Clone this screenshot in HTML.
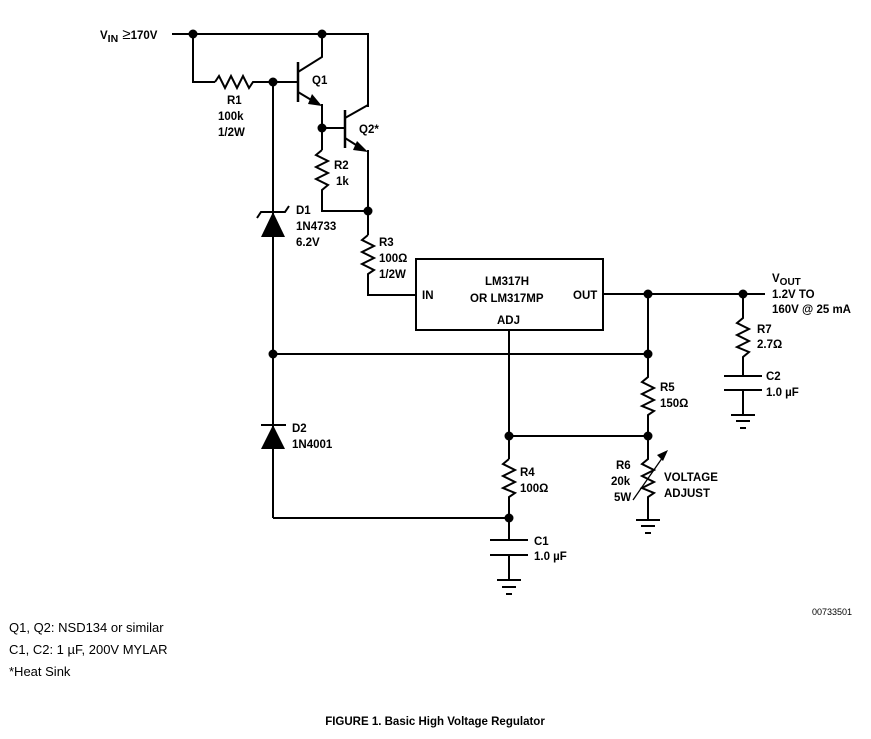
<!DOCTYPE html>
<html><head><meta charset="utf-8"><style>
html,body{margin:0;padding:0;background:#fff;}
svg{display:block;}
text{font-family:"Liberation Sans",Arial,sans-serif;font-weight:bold;font-size:11.5px;fill:#000;}
.n{font-weight:normal;font-size:13px;}
</style></head><body>
<svg width="871" height="739" viewBox="0 0 871 739" xmlns="http://www.w3.org/2000/svg">
<g stroke="#000" stroke-width="2" fill="none" stroke-linejoin="miter">
<polyline points="172,34 368,34 368,107"/>
<polyline points="193,34 193,82 215,82"/>
<polyline points="215,82 219,76 225,88 231,76 237,88 243,76 249,88 253,82 298,82"/>
<line x1="298" y1="62" x2="298" y2="102" stroke-width="2.5"/>
<polyline points="298,72 322,57 322,34"/>
<polyline points="298,92 318,104"/>
<polyline points="322,104 322,150"/>
<line x1="322" y1="128" x2="345" y2="128"/>
<line x1="345" y1="110" x2="345" y2="148" stroke-width="2.5"/>
<polyline points="345,118 368,105"/>
<polyline points="345,138 364,150"/>
<polyline points="368,150 368,235"/>
<polyline points="322,150 316,155 328,161 316,167 328,173 316,179 328,185 322,190 322,211 368,211"/>
<polyline points="368,235 362,240 374,246 362,252 374,258 362,264 374,270 368,274 368,295 416,295"/>
<rect x="416" y="259" width="187" height="71"/>
<line x1="603" y1="294" x2="765" y2="294"/>
<polyline points="743,294 743,318 737,323 749,329 737,335 749,341 737,347 749,352 743,357 743,376"/>
<line x1="724" y1="376" x2="762" y2="376"/>
<line x1="724" y1="390" x2="762" y2="390"/>
<line x1="743" y1="390" x2="743" y2="415"/>
<line x1="731" y1="415" x2="755" y2="415"/>
<line x1="736" y1="421" x2="750" y2="421"/>
<line x1="740" y1="428" x2="746" y2="428"/>
<polyline points="648,294 648,377 642,382 654,388 642,394 654,400 642,406 654,411 648,415 648,459 642,464 654,470 642,476 654,482 642,488 654,493 648,497 648,520"/>
<line x1="636" y1="520" x2="660" y2="520"/>
<line x1="641" y1="526" x2="655" y2="526"/>
<line x1="645" y1="533" x2="651" y2="533"/>
<line x1="633" y1="500" x2="665" y2="454" stroke-width="1.3"/>
<line x1="273" y1="354" x2="648" y2="354"/>
<line x1="509" y1="330" x2="509" y2="459"/>
<line x1="509" y1="436" x2="648" y2="436"/>
<polyline points="509,459 503,464 515,470 503,476 515,482 503,488 515,493 509,497 509,540"/>
<line x1="273" y1="518" x2="509" y2="518"/>
<line x1="490" y1="540" x2="528" y2="540"/>
<line x1="490" y1="555" x2="528" y2="555"/>
<line x1="509" y1="555" x2="509" y2="580"/>
<line x1="497" y1="580" x2="521" y2="580"/>
<line x1="502" y1="587" x2="516" y2="587"/>
<line x1="506" y1="594" x2="512" y2="594"/>
<line x1="273" y1="82" x2="273" y2="518"/>
<polyline points="257,218 261,212 285,212 289,206"/>
<line x1="261" y1="425" x2="286" y2="425"/>
</g>
<g fill="#000">
<polygon points="322,106 312,94 308,104"/>
<polygon points="368,152 357,141 353,150"/>
<polygon points="668,450 657,455 663,461"/>
<polygon points="273,212 261,237 285,237"/>
<polygon points="273,425 261,449 285,449"/>
<circle cx="193" cy="34" r="4.5"/><circle cx="322" cy="34" r="4.5"/>
<circle cx="273" cy="82" r="4.5"/><circle cx="322" cy="128" r="4.5"/>
<circle cx="368" cy="211" r="4.5"/><circle cx="648" cy="294" r="4.5"/>
<circle cx="743" cy="294" r="4.5"/><circle cx="648" cy="354" r="4.5"/>
<circle cx="273" cy="354" r="4.5"/><circle cx="509" cy="436" r="4.5"/>
<circle cx="648" cy="436" r="4.5"/><circle cx="509" cy="518" r="4.5"/>
</g>
<text x="100" y="39" font-size="13">V<tspan font-size="10.5" dy="3">IN</tspan><tspan dy="-3" font-size="15" font-weight="normal"> ≥</tspan><tspan>170V</tspan></text>
<text x="312" y="84">Q1</text>
<text x="359" y="133">Q2*</text>
<text x="227" y="104">R1</text>
<text x="218" y="120">100k</text>
<text x="218" y="136">1/2W</text>
<text x="334" y="169">R2</text>
<text x="336" y="185">1k</text>
<text x="296" y="214">D1</text>
<text x="296" y="230">1N4733</text>
<text x="296" y="246">6.2V</text>
<text x="379" y="246">R3</text>
<text x="379" y="262">100Ω</text>
<text x="379" y="278">1/2W</text>
<text x="485" y="285">LM317H</text>
<text x="470" y="302">OR LM317MP</text>
<text x="422" y="299">IN</text>
<text x="573" y="299">OUT</text>
<text x="497" y="324">ADJ</text>
<text x="772" y="282" font-size="12.5">V<tspan font-size="10" dy="3">OUT</tspan></text>
<text x="772" y="298">1.2V TO</text>
<text x="772" y="313">160V @ 25 mA</text>
<text x="757" y="333">R7</text>
<text x="757" y="348">2.7Ω</text>
<text x="766" y="380">C2</text>
<text x="766" y="396">1.0 µF</text>
<text x="660" y="391">R5</text>
<text x="660" y="407">150Ω</text>
<text x="292" y="432">D2</text>
<text x="292" y="448">1N4001</text>
<text x="616" y="469">R6</text>
<text x="611" y="485">20k</text>
<text x="614" y="501">5W</text>
<text x="664" y="481">VOLTAGE</text>
<text x="664" y="497">ADJUST</text>
<text x="520" y="476">R4</text>
<text x="520" y="492">100Ω</text>
<text x="534" y="545">C1</text>
<text x="534" y="560">1.0 µF</text>
<text x="812" y="615" style="font-weight:normal;font-size:9px">00733501</text>
<text class="n" x="9" y="632">Q1, Q2: NSD134 or similar</text>
<text class="n" x="9" y="654">C1, C2: 1 µF, 200V MYLAR</text>
<text class="n" x="9" y="676">*Heat Sink</text>
<text x="435" y="725" text-anchor="middle" font-size="14.5">FIGURE 1. Basic High Voltage Regulator</text>
</svg>
</body></html>
